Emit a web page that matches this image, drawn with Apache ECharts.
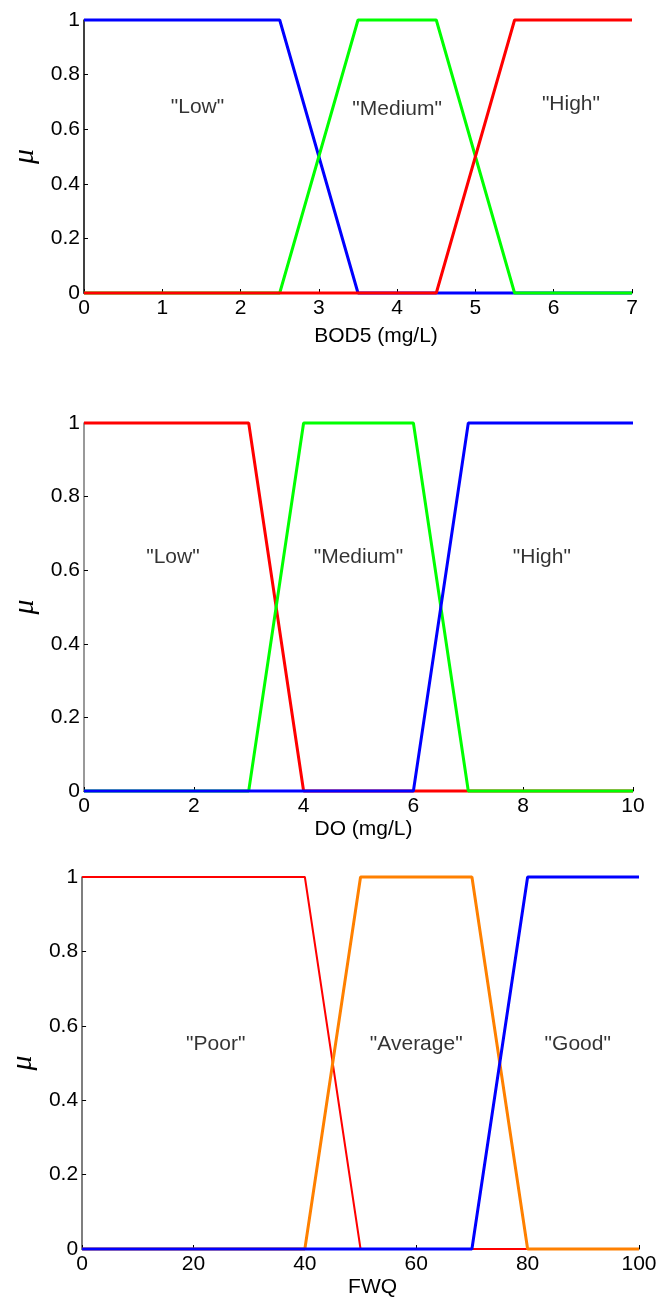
<!DOCTYPE html>
<html>
<head>
<meta charset="utf-8">
<script src="https://cdn.jsdelivr.net/npm/echarts@6/dist/echarts.min.js"></script>
<style>
  html, body { margin: 0; padding: 0; background: #fff; }
  #chart { width: 660px; height: 1299px; }
</style>
</head>
<body>
<div id="chart"></div>
<script>
// Membership functions (x, μ) for BOD5
const bodLow    = [[0, 1], [2.5, 1], [3.5, 0], [7, 0]];
const bodMedium = [[0, 0], [2.5, 0], [3.5, 1], [4.5, 1], [5.5, 0], [7, 0]];
const bodHigh   = [[0, 0], [4.5, 0], [5.5, 1], [7, 1]];
const bodTerms  = ['"Low"', '"Medium"', '"High"'];

// Membership functions for DO
const doLow    = [[0, 1], [3, 1], [4, 0], [10, 0]];
const doMedium = [[0, 0], [3, 0], [4, 1], [6, 1], [7, 0], [10, 0]];
const doHigh   = [[0, 0], [6, 0], [7, 1], [10, 1]];
const doTerms  = ['"Low"', '"Medium"', '"High"'];

// Membership functions for FWQ
const fwqPoor    = [[0, 1], [40, 1], [50, 0], [100, 0]];
const fwqAverage = [[0, 0], [40, 0], [50, 1], [70, 1], [80, 0], [100, 0]];
const fwqGood    = [[0, 0], [70, 0], [80, 1], [100, 1]];
const fwqTerms   = ['"Poor"', '"Average"', '"Good"'];

const axisNames = ['BOD5 (mg/L)', 'DO (mg/L)', 'FWQ'];
const muLabel = 'μ';

const FONT = 'Liberation Sans, Arial, sans-serif';
const FS = 21;

// Layout of the three panels
const panels = [
  { grid: { left: 84, top: 20, width: 548, height: 273 }, xMax: 7, xStep: 1,
    nameGap: 33, namePad: 36, axisColor: '#000',
    series: [[bodLow, '#0000ff', 3], [bodMedium, '#00ff00', 3], [bodHigh, '#ff0000', 3]],
    terms: bodTerms, termAt: [[1.45, 0.68], [4.0, 0.675], [6.22, 0.69]] },
  { grid: { left: 84, top: 423, width: 549, height: 368 }, xMax: 10, xStep: 2,
    nameGap: 28, namePad: 10, axisColor: '#777',
    series: [[doLow, '#ff0000', 3], [doMedium, '#00ff00', 3], [doHigh, '#0000ff', 3]],
    terms: doTerms, termAt: [[1.62, 0.636], [5.0, 0.636], [8.34, 0.636]] },
  { grid: { left: 78, top: 877, width: 561, height: 372 }, xMax: 100, xStep: 20,
    nameGap: 28, namePad: 24, axisColor: '#555',
    series: [[fwqPoor, '#ff0000', 2], [fwqAverage, '#ff8000', 3], [fwqGood, '#0000ff', 3]],
    terms: fwqTerms, termAt: [[24, 0.55], [60, 0.55], [89, 0.55]] }
];

const grid = [], xAxis = [], yAxis = [], series = [];
panels.forEach((p, i) => {
  grid.push(Object.assign({ containLabel: false }, p.grid));
  xAxis.push({
    type: 'value', gridIndex: i, min: 0, max: p.xMax, interval: p.xStep,
    name: axisNames[i], nameLocation: 'middle', nameGap: p.nameGap,
    nameTextStyle: { fontFamily: FONT, fontSize: FS, color: '#000', padding: [0, 0, 0, p.namePad] },
    axisLine: { show: true, lineStyle: { color: '#000', width: 1 } },
    axisTick: { show: true, inside: true, length: 4, lineStyle: { color: '#000' } },
    axisLabel: { fontFamily: FONT, fontSize: FS, color: '#000', margin: 5 },
    splitLine: { show: false }
  });
  yAxis.push({
    type: 'value', gridIndex: i, min: 0, max: 1, interval: 0.2,
    name: muLabel, nameLocation: 'middle', nameGap: 40, nameRotate: 90,
    nameTextStyle: { fontFamily: 'Liberation Serif, serif', fontStyle: 'italic', fontSize: 30, color: '#000' },
    axisLine: { show: true, lineStyle: { color: p.axisColor, width: 1.5 } },
    axisTick: { show: true, inside: true, length: 4, lineStyle: { color: '#000' } },
    axisLabel: { fontFamily: FONT, fontSize: FS, color: '#000', margin: 4 },
    splitLine: { show: false }
  });
  p.series.forEach(([pts, color, w]) => {
    series.push({
      type: 'line', xAxisIndex: i, yAxisIndex: i, data: pts,
      showSymbol: false, clip: false, animation: false,
      lineStyle: { color: color, width: w }
    });
  });
  // Term names placed inside each panel
  series.push({
    type: 'scatter', xAxisIndex: i, yAxisIndex: i, symbolSize: 0, animation: false,
    silent: true,
    data: p.terms.map((t, k) => ({ name: t, value: p.termAt[k] })),
    label: {
      show: true, position: 'inside', formatter: '{b}',
      fontFamily: FONT, fontSize: FS, color: '#000',
      textBorderWidth: 0, textBorderColor: 'transparent'
    }
  });
});

const chart = echarts.init(document.getElementById('chart'), null, { renderer: 'canvas' });
chart.setOption({ animation: false, grid, xAxis, yAxis, series });
</script>
</body>
</html>
